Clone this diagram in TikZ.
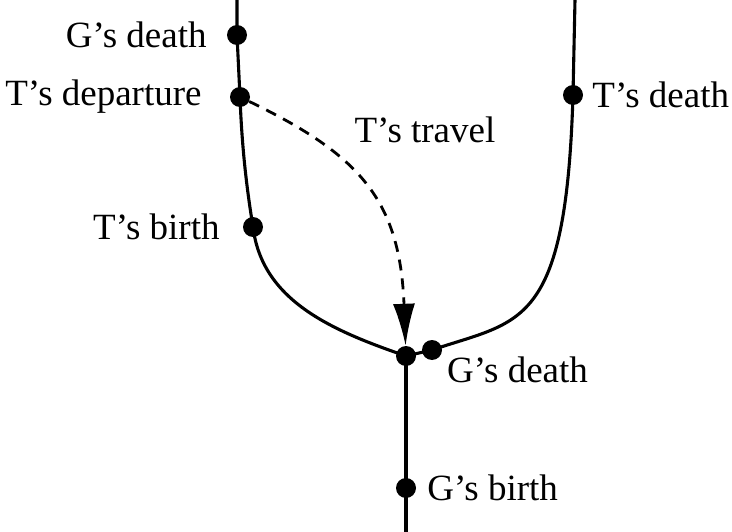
\documentclass[tikz,border=0pt]{standalone}
\usepackage{fontspec}
\setmainfont{Liberation Serif}
\usepackage{tikz}
\usetikzlibrary{arrows.meta,positioning}

\begin{document}
\begin{tikzpicture}[x=1pt,y=-1pt,
    event/.style={circle,fill=black,inner sep=0pt,minimum size=20pt},
    lbl/.style={inner sep=0pt,font=\fontsize{37}{44}\selectfont},
    life/.style={line width=3.1pt,line join=round},
    travel/.style={line width=2.8pt,dash pattern=on 11pt off 8pt,-{Latex[length=42pt,width=22pt]}}]
  \useasboundingbox (0,0) rectangle (732,532);
  % world lines ends
  \coordinate (topL) at (237,0);
  \coordinate (topR) at (575,0);
  \coordinate (bot) at (406,532);
  % events
  \node[event] (gdL) at (237,35) {};
  \node[event] (dep) at (240,97) {};
  \node[event] (tb) at (253,227) {};
  \node[event] (td) at (573,95) {};
  \node[event] (gdR) at (432,350) {};
  \node[event] (junc) at (406,356) {};
  \node[event] (gb) at (406,488) {};
  \draw[life] (topL) -- (gdL.center) -- (dep.center)
    .. controls (242,150) and (247,190) .. (tb.center)
    .. controls (262,300) and (330,330) .. (junc.center);
  \draw[life] (topR) -- (td.center)
    .. controls (566,330) and (520,320) .. (gdR.center) -- (junc.center);
  \draw[life] (junc.center) -- (gb.center) -- (bot);
  \draw[travel] (dep) .. controls (360,155) and (400,200) .. (junc);
  % labels
  \node[lbl,left=20pt of gdL] {G's death};
  \node[lbl,left=28pt of dep] {T's departure};
  \node[lbl,left=23pt of tb] {T's birth};
  \node[lbl,right=9pt of td] {T's death};
  \node[lbl,right=11pt of gb] {G's birth};
  \node[lbl,anchor=west] (gdRl) at ([shift={(15,20)}]gdR.center) {G's death};
  \node[lbl] (tr) at (425,130) {T's travel};
\end{tikzpicture}
\end{document}
